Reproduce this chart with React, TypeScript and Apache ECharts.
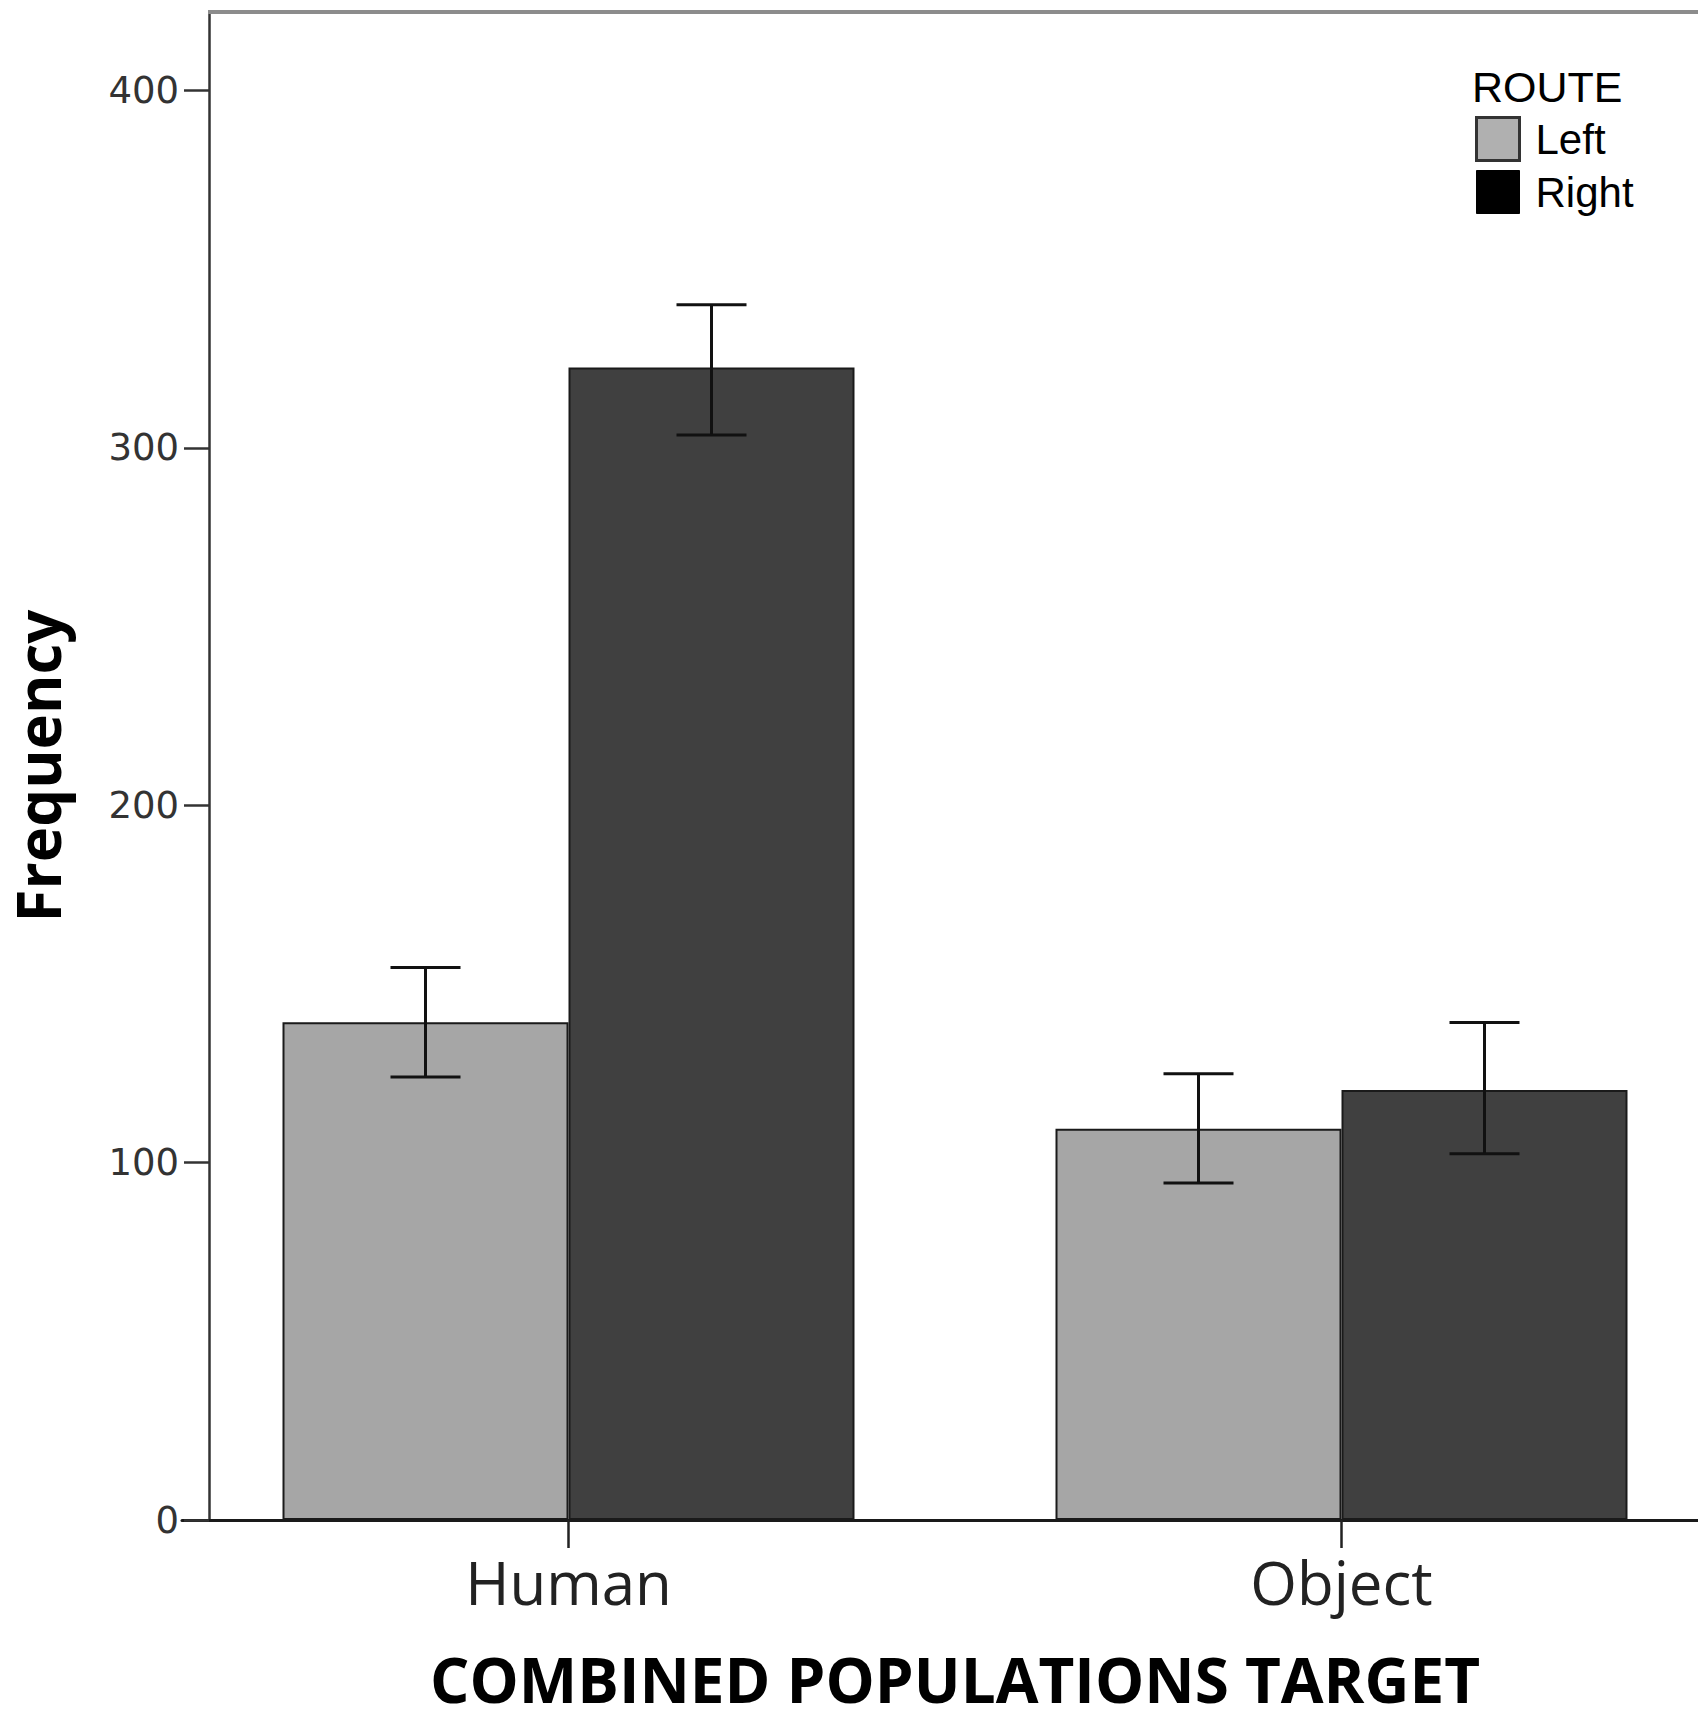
import React, { useEffect, useRef } from "react";
import * as echarts from "echarts";

// ---- data ----
const categories = ["Human", "Object"];
const seriesNames = ["Left", "Right"];
const leftValues = [139.3, 109.5];
const rightValues = [322.5, 120.3];
const leftLow = [124.0, 94.3];
const leftHigh = [154.6, 124.9];
const rightLow = [303.6, 102.5];
const rightHigh = [340.1, 139.2];
const yTicks = [0, 100, 200, 300, 400];
const yMax = 422;
const legendTitle = "ROUTE";
const xTitle = "COMBINED POPULATIONS TARGET";
const yTitle = "Frequency";

// ---- styles ----
const BAR_W = 286;
const CAP_W = 70;
const LEFT_FILL = "#a6a6a6";
const RIGHT_FILL = "#404040";
// plot area runs past the right edge of the visible picture (as in the reference)
const CANVAS_W = 1728;

function makeErrRender(offset: number) {
  return (params: any, api: any) => {
    const x = api.value(0);
    const lo = api.value(1);
    const hi = api.value(2);
    const pLo = api.coord([x, lo]);
    const pHi = api.coord([x, hi]);
    const cx = pLo[0] + offset;
    const h = CAP_W / 2;
    const style = { stroke: "#111", lineWidth: 3 };
    return {
      type: "group",
      children: [
        { type: "line", shape: { x1: cx, y1: pHi[1], x2: cx, y2: pLo[1] }, style },
        { type: "line", shape: { x1: cx - h, y1: pHi[1], x2: cx + h, y2: pHi[1] }, style },
        { type: "line", shape: { x1: cx - h, y1: pLo[1], x2: cx + h, y2: pLo[1] }, style },
      ],
    };
  };
}

export default function App() {
  const ref = useRef<HTMLDivElement>(null);
  useEffect(() => {
    if (!ref.current) return;
    const chart = echarts.init(ref.current, null, { renderer: "svg" });
    const option: any = {
      animation: false,
      backgroundColor: "#ffffff",
      grid: { left: 181, right: 0, top: 12, bottom: 196, containLabel: false },
      legend: {
        orient: "vertical",
        left: 1470,
        top: 111,
        itemWidth: 43,
        itemHeight: 43,
        itemGap: 8,
        icon: "rect",
        textStyle: {
          fontFamily: "Liberation Sans",
          fontSize: 42,
          color: "#000",
          padding: [0, 0, 0, 11],
        },
        data: [
          { name: seriesNames[0], itemStyle: { color: "#b0b0b0", borderColor: "#333", borderWidth: 3 } },
          { name: seriesNames[1], itemStyle: { color: "#000", borderColor: "#000", borderWidth: 1 } },
        ],
      },
      xAxis: {
        type: "category",
        data: categories,
        name: xTitle,
        nameLocation: "middle",
        nameGap: 134,
        nameTextStyle: { fontFamily: "Open Sans", fontWeight: "bold", fontSize: 62, lineHeight: 50, color: "#000" },
        axisLine: { show: true, lineStyle: { color: "#1a1a1a", width: 3 } },
        axisTick: { show: true, alignWithLabel: true, length: 28, lineStyle: { color: "#222", width: 2.5 } },
        axisLabel: { fontFamily: "Open Sans", fontSize: 60, color: "#222", margin: 32 },
        splitLine: { show: false },
      },
      yAxis: {
        type: "value",
        min: 0,
        max: yMax,
        offset: -27,
        name: yTitle,
        nameLocation: "middle",
        nameGap: 141,
        nameRotate: 90,
        nameTextStyle: { fontFamily: "Open Sans", fontWeight: "bold", fontSize: 60, color: "#000" },
        axisLine: { show: true, lineStyle: { color: "#333", width: 2.5 } },
        axisTick: { show: true, length: 25, customValues: yTicks, lineStyle: { color: "#333", width: 2.5 } },
        axisLabel: { customValues: yTicks, fontFamily: "DejaVu Sans", fontSize: 37, color: "#333", margin: 30 },
        splitLine: { show: false },
      },
      graphic: [
        {
          type: "line",
          shape: { x1: 208, y1: 12, x2: CANVAS_W, y2: 12 },
          style: { stroke: "#8c8c8c", lineWidth: 4 },
          z: 10,
        },
        {
          type: "text",
          left: 1472,
          top: 65,
          style: { text: legendTitle, fontFamily: "Liberation Sans", fontSize: 43, fill: "#000" },
        },
      ],
      series: [
        {
          name: seriesNames[0],
          type: "bar",
          data: leftValues,
          barWidth: BAR_W,
          barGap: "0%",
          itemStyle: { color: LEFT_FILL, borderColor: "#1a1a1a", borderWidth: 2 },
          z: 2,
        },
        {
          name: seriesNames[1],
          type: "bar",
          data: rightValues,
          barWidth: BAR_W,
          barGap: "0%",
          itemStyle: { color: RIGHT_FILL, borderColor: "#1a1a1a", borderWidth: 2 },
          z: 2,
        },
        {
          name: "Left error",
          type: "custom",
          renderItem: makeErrRender(-BAR_W / 2),
          data: categories.map((_, i) => [i, leftLow[i], leftHigh[i]]),
          encode: { x: 0, y: [1, 2] },
          z: 5,
          silent: true,
        },
        {
          name: "Right error",
          type: "custom",
          renderItem: makeErrRender(BAR_W / 2),
          data: categories.map((_, i) => [i, rightLow[i], rightHigh[i]]),
          encode: { x: 0, y: [1, 2] },
          z: 5,
          silent: true,
        },
      ],
    };
    chart.setOption(option);
    return () => chart.dispose();
  }, []);
  return (
    <div
      ref={ref}
      style={{ position: "fixed", left: 0, top: 0, width: CANVAS_W, height: 1716, background: "#fff" }}
    />
  );
}
